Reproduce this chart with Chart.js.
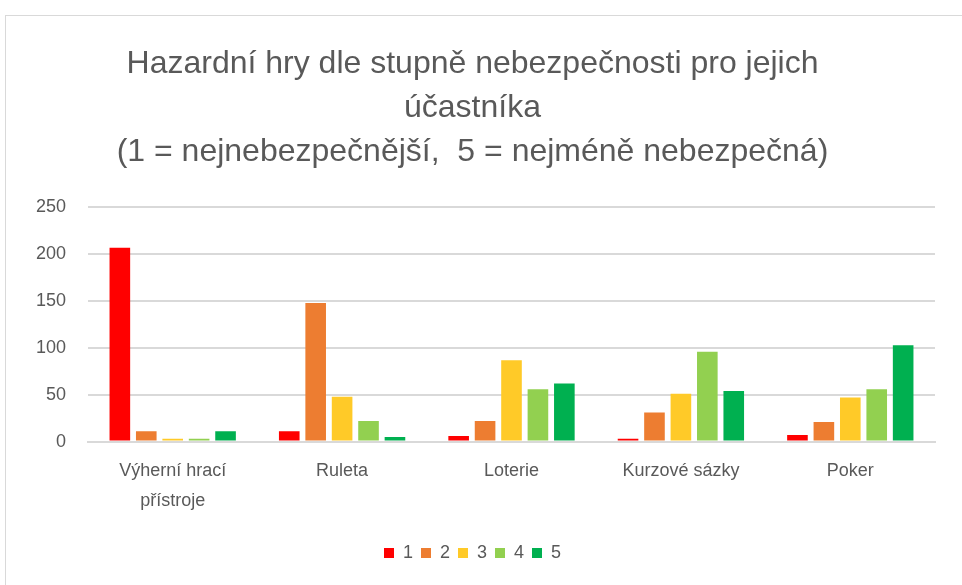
<!DOCTYPE html>
<html>
<head>
<meta charset="utf-8">
<script src="https://cdn.jsdelivr.net/npm/chart.js@4"></script>
<style>
  body { margin: 0; background: #fff; }
  #frame { position: absolute; left: 5px; top: 15px; width: 970px; height: 580px; border: 1px solid #d9d9d9; box-sizing: border-box; }
  #wrap { position: absolute; left: 0; top: 0; width: 962px; height: 585px; }
</style>
</head>
<body>
<div id="frame"></div>
<div id="wrap"><canvas id="hrChart"></canvas></div>
<script>
let categories = [['Výherní hrací', 'přístroje'], 'Ruleta', 'Loterie', 'Kurzové sázky', 'Poker'];
let rank1 = [207, 11, 6, 3, 7];
let rank2 = [11, 148, 22, 31, 21];
let rank3 = [3, 48, 87, 51, 47];
let rank4 = [3, 22, 56, 96, 56];
let rank5 = [11, 5, 62, 54, 103];
let seriesNames = ['1', '2', '3', '4', '5'];
let colors = ['#FF0000', '#ED7D31', '#FFCA28', '#92D050', '#00B050'];

let font = "'Liberation Sans', sans-serif";
let grey = '#595959';

let ctx = document.getElementById('hrChart').getContext('2d');
let series = [rank1, rank2, rank3, rank4, rank5];

let chart = new Chart(ctx, {
  type: 'bar',
  data: {
    labels: categories,
    datasets: series.map(function(d, i) {
      return {
        label: seriesNames[i],
        data: d,
        backgroundColor: colors[i],
        categoryPercentage: 0.78,
        barPercentage: 0.78
      };
    })
  },
  options: {
    responsive: true,
    maintainAspectRatio: false,
    animation: false,
    layout: { padding: { top: 42, left: 10, right: 27, bottom: 13 } },
    plugins: {
      title: {
        display: true,
        text: ['Hazardní hry dle stupně nebezpečnosti pro jejich', 'účastníka', '(1 = nejnebezpečnější,  5 = nejméně nebezpečná)'],
        color: grey,
        font: { family: font, size: 32, weight: 'normal', lineHeight: 1.38 },
        padding: { top: 0, bottom: 33 }
      },
      legend: {
        position: 'bottom',
        labels: {
          color: grey,
          boxWidth: 10,
          boxHeight: 10,
          padding: 8,
          font: { family: font, size: 18 }
        }
      },
      tooltip: { enabled: false }
    },
    scales: {
      x: {
        grid: { display: false },
        border: { color: '#d9d9d9', width: 2 },
        ticks: { color: grey, font: { family: font, size: 18, lineHeight: 1.65 }, maxRotation: 0, padding: 7 },
        afterFit: function(scale) { scale.height += 13; }
      },
      y: {
        min: 0,
        max: 250,
        ticks: { stepSize: 50, color: grey, font: { family: font, size: 18 }, padding: 22 },
        grid: { color: '#d9d9d9', lineWidth: 2, drawTicks: false },
        border: { display: false },
        afterFit: function(scale) { scale.width = 78; }
      }
    }
  }
});
</script>
</body>
</html>
